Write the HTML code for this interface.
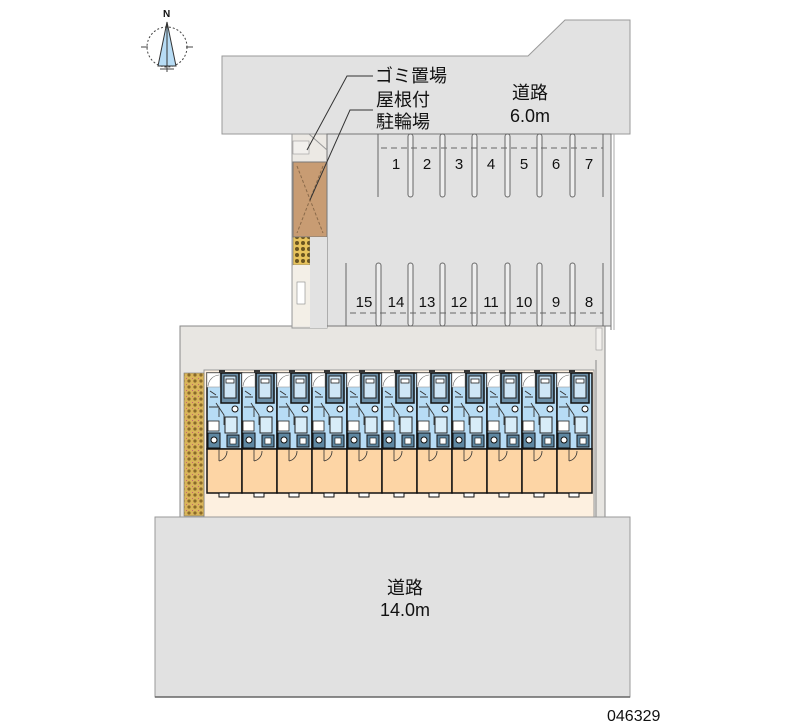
<!DOCTYPE html>
<html><head><meta charset="utf-8"><style>
html,body{margin:0;padding:0;background:#fff;width:800px;height:727px;overflow:hidden}
svg{display:block}
text{font-family:"Liberation Sans","Noto Sans CJK JP",sans-serif;fill:#111}
</style></head><body>
<svg width="800" height="727" viewBox="0 0 800 727" xmlns="http://www.w3.org/2000/svg">
<defs>
<g id="unit">
  <rect x="0" y="0" width="35" height="76" fill="#b7dcf5" stroke="#111" stroke-width="1.5"/>
  <rect x="0" y="0" width="13" height="14" fill="#fff" stroke="#999" stroke-width="0.6"/>
  <path d="M1 13 A12 12 0 0 1 12 2" fill="none" stroke="#666" stroke-width="0.6"/>
  <rect x="14" y="0" width="18" height="30" fill="#6c8fa8" stroke="#111" stroke-width="1.5"/>
  <rect x="17" y="3" width="12" height="22" fill="#cfe6f6" stroke="#222" stroke-width="1"/>
  <rect x="19" y="6" width="8" height="4" fill="#fff" stroke="#222" stroke-width="0.8"/>
  <path d="M3 18 l6 4 M3 24 l8 0 M9 30 l8 12 l0 10 M2 34 l10 0 l0 10" stroke="#333" stroke-width="0.9" fill="none"/>
  <circle cx="28" cy="36" r="3" fill="#fff" stroke="#111" stroke-width="1"/>
  <rect x="1" y="48" width="11" height="10" fill="#fff" stroke="#222" stroke-width="0.8"/>
  <rect x="18" y="44" width="12" height="16" fill="#d8ecf8" stroke="#222" stroke-width="1"/>
  <rect x="1" y="60" width="12" height="15" fill="#5e87a2" stroke="#111" stroke-width="1"/>
  <circle cx="7" cy="67" r="3" fill="#fff" stroke="#111"/>
  <rect x="20" y="62" width="12" height="12" fill="#5e87a2" stroke="#111" stroke-width="1"/>
  <rect x="23" y="65" width="6" height="6" fill="#fff" stroke="#111" stroke-width="0.6"/>
  <rect x="0" y="76" width="35" height="44" fill="#fdd5a5" stroke="#111" stroke-width="1.5"/>
  <path d="M12 76 l0 12 M12 88 A10 10 0 0 0 20 78" fill="none" stroke="#333" stroke-width="0.8"/>
  <rect x="12" y="120" width="10" height="4" fill="#fff" stroke="#111" stroke-width="1"/>
  <rect x="12" y="-3" width="6" height="3" fill="#333"/>
</g>
<pattern id="brick" width="6" height="6" patternUnits="userSpaceOnUse">
  <rect width="6" height="6" fill="#d9b55a"/>
  <circle cx="3" cy="3" r="1.6" fill="#8a6a2a"/>
  <circle cx="0" cy="0" r="1" fill="#c04a7a"/>
</pattern>
<pattern id="bike" width="6" height="6" patternUnits="userSpaceOnUse">
  <rect width="6" height="6" fill="#e7c35c"/>
  <circle cx="3" cy="3" r="2" fill="#6b5520"/>
</pattern>
</defs>

<!-- compass -->
<g stroke="#444" fill="none">
  <circle cx="167" cy="47" r="20" stroke-dasharray="2,2"/>
  <line x1="141" y1="47" x2="148" y2="47"/><line x1="186" y1="47" x2="193" y2="47"/>
  <line x1="167" y1="64" x2="167" y2="72"/><line x1="160" y1="69" x2="174" y2="69"/>
</g>
<polygon points="167,22 158,66 176,66" fill="#b7dcf5" stroke="#333" stroke-width="1"/>
<line x1="167" y1="22" x2="167" y2="66" stroke="#333"/>
<text x="163" y="17" font-size="10" font-weight="bold" font-family="Liberation Serif">N</text>

<!-- top road -->
<polygon points="222,56 528,56 565,20 630,20 630,134 222,134" fill="#e2e2e2" stroke="#999" stroke-width="1"/>
<text x="530" y="99" font-size="18" text-anchor="middle">道路</text>
<text x="530" y="122" font-size="18" text-anchor="middle">6.0m</text>

<!-- site -->
<rect x="180" y="326" width="425" height="191" fill="#e8e6e2" stroke="#888" stroke-width="1"/>
<rect x="292" y="134" width="35" height="194" fill="#ece9e4" stroke="#999" stroke-width="1"/>
<rect x="327" y="134" width="284" height="192" fill="#e2e2e2" stroke="#777" stroke-width="1"/>
<line x1="611" y1="134" x2="611" y2="330" stroke="#777"/><line x1="614" y1="134" x2="614" y2="330" stroke="#aaa"/>
<rect x="596" y="328" width="6" height="22" fill="#f2f0ed" stroke="#999" stroke-width="0.6"/>
<line x1="596" y1="360" x2="596" y2="517" stroke="#888"/>
<!-- garbage / bike -->
<rect x="293" y="141" width="16" height="13" fill="#f2f0ed" stroke="#999" stroke-width="0.6"/>
<line x1="309" y1="134" x2="327" y2="150" stroke="#999"/>
<rect x="293" y="162" width="34" height="75" fill="#c89c73" stroke="#777" stroke-width="1"/>
<path d="M297 166 L323 233 M323 166 L297 233" stroke="#8a6a4a" stroke-dasharray="3,2" fill="none"/>
<rect x="293" y="237" width="17" height="28" fill="url(#bike)" stroke="#777" stroke-width="0.6"/>
<rect x="310" y="237" width="17" height="91" fill="#e2e2e2"/>
<rect x="293" y="265" width="17" height="61" fill="#f3efe7"/>
<rect x="297" y="282" width="8" height="22" fill="#fff" stroke="#888" stroke-width="0.6"/>

<!-- parking top -->
<g stroke="#666" stroke-width="1" fill="#eee">
  <line x1="378" y1="134" x2="378" y2="197"/>
  <rect x="408" y="134" width="5" height="63" rx="2.5"/>
  <rect x="440" y="134" width="5" height="63" rx="2.5"/>
  <rect x="472" y="134" width="5" height="63" rx="2.5"/>
  <rect x="505" y="134" width="5" height="63" rx="2.5"/>
  <rect x="537" y="134" width="5" height="63" rx="2.5"/>
  <rect x="570" y="134" width="5" height="63" rx="2.5"/>
  <line x1="603" y1="134" x2="603" y2="197"/>
  <line x1="381" y1="148" x2="603" y2="148" stroke-dasharray="6,4"/>
</g>
<g font-size="15" text-anchor="middle">
  <text x="396" y="169">1</text><text x="427" y="169">2</text><text x="459" y="169">3</text><text x="491" y="169">4</text><text x="524" y="169">5</text><text x="556" y="169">6</text><text x="589" y="169">7</text>
</g>
<!-- parking bottom -->
<g stroke="#666" stroke-width="1" fill="#eee">
  <line x1="346" y1="263" x2="346" y2="326"/>
  <rect x="376" y="263" width="5" height="63" rx="2.5"/>
  <rect x="408" y="263" width="5" height="63" rx="2.5"/>
  <rect x="440" y="263" width="5" height="63" rx="2.5"/>
  <rect x="472" y="263" width="5" height="63" rx="2.5"/>
  <rect x="505" y="263" width="5" height="63" rx="2.5"/>
  <rect x="537" y="263" width="5" height="63" rx="2.5"/>
  <rect x="570" y="263" width="5" height="63" rx="2.5"/>
  <line x1="603" y1="263" x2="603" y2="326"/>
  <line x1="350" y1="313" x2="603" y2="313" stroke-dasharray="6,4"/>
</g>
<g font-size="15" text-anchor="middle">
  <text x="364" y="307">15</text><text x="396" y="307">14</text><text x="427" y="307">13</text><text x="459" y="307">12</text><text x="491" y="307">11</text><text x="524" y="307">10</text><text x="556" y="307">9</text><text x="589" y="307">8</text>
</g>

<!-- labels -->
<polyline points="373,76 347,76 307,150" fill="none" stroke="#333" stroke-width="1"/>
<polyline points="373,110 350,110 310,200" fill="none" stroke="#333" stroke-width="1"/>
<text x="375" y="82" font-size="18">ゴミ置場</text>
<text x="376" y="106" font-size="18">屋根付</text>
<text x="376" y="128" font-size="18">駐輪場</text>

<!-- building -->
<rect x="204" y="370" width="390" height="147" fill="#fdf0e0" stroke="#999" stroke-width="1"/>
<rect x="184" y="373" width="20" height="143" fill="url(#brick)" stroke="#777" stroke-width="0.6"/>
<use href="#unit" x="207" y="373"/>
<use href="#unit" x="242" y="373"/>
<use href="#unit" x="277" y="373"/>
<use href="#unit" x="312" y="373"/>
<use href="#unit" x="347" y="373"/>
<use href="#unit" x="382" y="373"/>
<use href="#unit" x="417" y="373"/>
<use href="#unit" x="452" y="373"/>
<use href="#unit" x="487" y="373"/>
<use href="#unit" x="522" y="373"/>
<use href="#unit" x="557" y="373"/>

<!-- bottom road -->
<rect x="155" y="517" width="475" height="180" fill="#e1e1e1" stroke="#999" stroke-width="1"/>
<line x1="155" y1="697" x2="630" y2="697" stroke="#666" stroke-width="1.5"/>
<text x="405" y="594" font-size="18" text-anchor="middle">道路</text>
<text x="405" y="616" font-size="18" text-anchor="middle">14.0m</text>

<text x="607" y="721" font-size="16">046329</text>
</svg>
</body></html>
